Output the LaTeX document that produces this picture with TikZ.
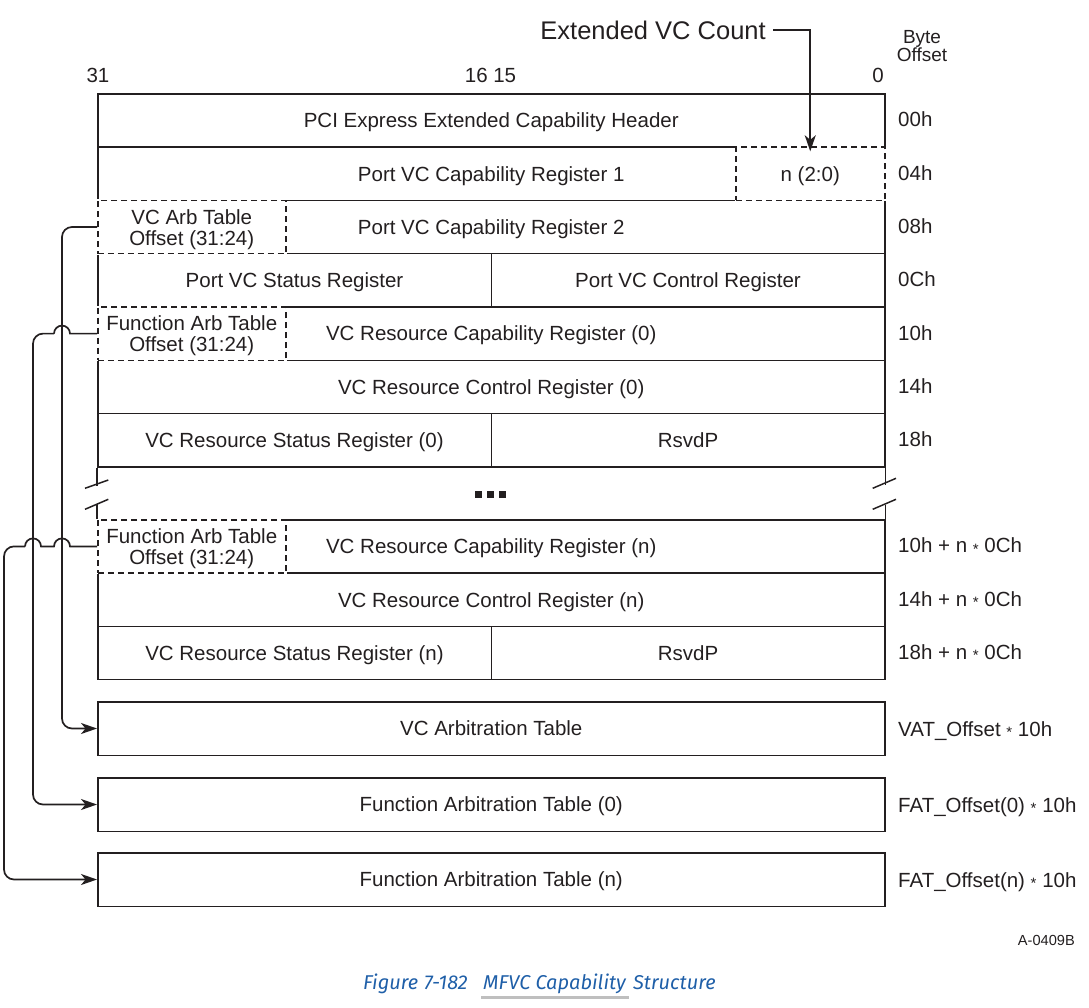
\documentclass[tikz,border=0pt]{standalone}
\usepackage{fontspec}
\usepackage{graphicx}
\setmainfont{Liberation Sans}
\newfontfamily\capfont{Fira Sans}
\usetikzlibrary{arrows.meta,calc}
\definecolor{ink}{HTML}{231F20}
\definecolor{capblue}{HTML}{1F5FA8}
\definecolor{ulgray}{HTML}{BFBFBF}
\newcommand\mfast{\raisebox{-0.1ex}{\fontsize{15}{15}\selectfont *}}
\newcommand\twoline[2]{\raisebox{0pt}[\dimexpr\height+7pt\relax][\depth]{\begin{tabular}{@{}c@{}}#1\\#2\end{tabular}}}
\begin{document}
\begin{tikzpicture}[x=1pt,y=-1pt,
  every node/.style={inner sep=0pt, text=ink},
  txt/.style={font=\fontsize{20.5}{21}\selectfont},
  oneline/.style={text height=19pt, text depth=4.3pt},
  basecell/.style={draw=ink, line width=1.5pt, anchor=north west, txt, align=center},
  cell/.style={basecell, oneline},
  dcell/.style={basecell, dash pattern=on 6pt off 4pt, fill=white, preaction={draw=white, solid, line width=2.1pt}},
  brk/.style={draw=ink, line width=1.5pt},
  conn/.style={draw=ink, line width=1.7pt},
  tip/.style={-{Stealth[length=16pt,width=11pt,inset=4.5pt]}},
  off/.style={anchor=west, txt, oneline},
]
\useasboundingbox (0,0) rectangle (1089,1007);

% header labels
\node[font=\fontsize{25.5}{27}\selectfont, anchor=east] (evc) at (766,30) {Extended VC Count};
\node[txt] (b31) at (98,75) {31};
\node[txt] (b16) at (490.5,75) {16 15};
\node[txt] (b0) at (878,75) {0};
\node[font=\fontsize{19}{18.5}\selectfont, align=center] (bo) at (922,46) {Byte\\Offset};

% register rows
\node[cell, minimum width=787pt, minimum height=53.3pt] (hdr) at (97,93) {PCI Express Extended Capability Header};
\node[cell, minimum width=787pt, minimum height=53.3pt] (pvc1) at (97,146.3) {Port VC Capability Register 1};
\node[cell, minimum width=787pt, minimum height=53.3pt] (pvc2) at (97,199.6) {Port VC Capability Register 2};
\node[cell, minimum width=393.5pt, minimum height=53.3pt] (pvcs) at (97,252.9) {Port VC Status Register};
\node[cell, minimum width=393.5pt, minimum height=53.3pt] (pvcc) at (490.5,252.9) {Port VC Control Register};
\node[cell, minimum width=787pt, minimum height=53.3pt] (rcap0) at (97,306.2) {VC Resource Capability Register (0)};
\node[cell, minimum width=787pt, minimum height=53.3pt] (rctl0) at (97,359.5) {VC Resource Control Register (0)};
\node[cell, minimum width=393.5pt, minimum height=53.3pt] (rsts0) at (97,412.8) {VC Resource Status Register (0)};
\node[cell, minimum width=393.5pt, minimum height=53.3pt] (rsv0) at (490.5,412.8) {RsvdP};

\node[cell, minimum width=787pt, minimum height=53.3pt] (rcapn) at (97,519) {VC Resource Capability Register (n)};
\node[cell, minimum width=787pt, minimum height=53.3pt] (rctln) at (97,572.3) {VC Resource Control Register (n)};
\node[cell, minimum width=393.5pt, minimum height=53.3pt] (rstsn) at (97,625.6) {VC Resource Status Register (n)};
\node[cell, minimum width=393.5pt, minimum height=53.3pt] (rsvn) at (490.5,625.6) {RsvdP};

% dashed fields
\node[dcell, oneline, minimum width=149pt, minimum height=53.3pt] (ncnt) at (735,146.3) {n (2:0)};
\node[dcell, minimum width=188pt, minimum height=53.3pt] (vcarb) at (97,199.6) {\twoline{VC Arb Table}{Offset (31:24)}};
\node[dcell, minimum width=188pt, minimum height=53.3pt] (farb0) at (97,306.2) {\twoline{Function Arb Table}{Offset (31:24)}};
\node[dcell, minimum width=188pt, minimum height=53.3pt] (farbn) at (97,519) {\twoline{Function Arb Table}{Offset (31:24)}};

% tables
\node[cell, minimum width=787pt, minimum height=53.5pt] (vat) at (97,701) {VC Arbitration Table};
\node[cell, minimum width=787pt, minimum height=53.5pt] (fat0) at (97,777) {Function Arbitration Table (0)};
\node[cell, minimum width=787pt, minimum height=53.5pt] (fatn) at (97,852) {Function Arbitration Table (n)};

% break in the structure
\draw[brk] (rsts0.south west) -- ++(0,18);
\draw[brk] (rcapn.north west) -- ++(0,-15);
\draw[brk] (rsv0.south east) -- ++(0,17.5);
\draw[brk] (rcapn.north east) -- ++(0,-14.5);
\draw[brk] (85,488.3) -- (108.3,480);
\draw[brk] (85,509.3) -- (108.3,499.3);
\draw[brk] (872.7,488.3) -- (896,478.3);
\draw[brk] (872.7,509.3) -- (896,499.3);
\fill[ink] (475,491) rectangle ++(7,7);
\fill[ink] (487,491) rectangle ++(7,7);
\fill[ink] (499,491) rectangle ++(7,7);

% offsets
\node[off] (o00) at (898,119.6) {00h};
\node[off] (o04) at (898,172.9) {04h};
\node[off] (o08) at (898,226.2) {08h};
\node[off] (o0c) at (898,279.5) {0Ch};
\node[off] (o10) at (898,332.8) {10h};
\node[off] (o14) at (898,386.1) {14h};
\node[off] (o18) at (898,439.4) {18h};
\node[off] (o10n) at (898,545.6) {10h + n \mfast\ 0Ch};
\node[off] (o14n) at (898,598.9) {14h + n \mfast\ 0Ch};
\node[off] (o18n) at (898,652.2) {18h + n \mfast\ 0Ch};
\node[off] (ovat) at (898,729.5) {VAT\_Offset \mfast\ 10h};
\node[off] (ofat0) at (898,805.5) {FAT\_Offset(0) \mfast\ 10h};
\node[off] (ofatn) at (898,880.5) {FAT\_Offset(n) \mfast\ 10h};

% connectors
\draw[conn,tip] ([xshift=7pt]evc.east) -| ([yshift=-5pt]ncnt.north);

\coordinate (hx1) at (62,0);
\coordinate (hx2) at (33,0);
\coordinate (hx3) at (4,0);

\draw[conn,tip,rounded corners=10pt] (vcarb.west) -- (vcarb.west -| hx1) |- (vat.west);

\draw[conn] (farb0.west) -- ($(farb0.west -| hx1)+(8,0)$) arc[start angle=0,end angle=180,radius=8pt] -- ($(farb0.west -| hx1)+(-8,0)$);
\draw[conn,tip,rounded corners=10pt] ($(farb0.west -| hx1)+(-8,0)$) -- (farb0.west -| hx2) |- (fat0.west);

\draw[conn] (farbn.west) -- ($(farbn.west -| hx1)+(8,0)$) arc[start angle=0,end angle=180,radius=8pt] -- ($(farbn.west -| hx2)+(8,0)$) arc[start angle=0,end angle=180,radius=8pt] -- ($(farbn.west -| hx2)+(-8,0)$);
\draw[conn,tip,rounded corners=10pt] ($(farbn.west -| hx2)+(-8,0)$) -- (farbn.west -| hx3) |- (fatn.west);

% footer
\node[font=\fontsize{14.6}{15}\selectfont, anchor=east] (aid) at (1075,940) {A-0409B};
\node[font=\capfont\itshape\fontsize{20}{22}\selectfont, text=capblue, anchor=base west] (cap1) at (363,989) {Figure};
\node[font=\capfont\itshape\fontsize{20}{22}\selectfont, text=capblue, anchor=base west] (cap2) at (424,989) {7-182};
\node[font=\capfont\itshape\fontsize{20}{22}\selectfont, text=capblue, anchor=base west] (cap3) at (483,989) {MFVC Capability};
\node[font=\capfont\itshape\fontsize{20}{22}\selectfont, text=capblue, anchor=base west] (cap4) at (633,989) {Structure};
\draw[ulgray, line width=3pt] ([xshift=-2pt]cap3.base west |- 0,997) -- ([xshift=3pt]cap3.base east |- 0,997);
\end{tikzpicture}
\end{document}
